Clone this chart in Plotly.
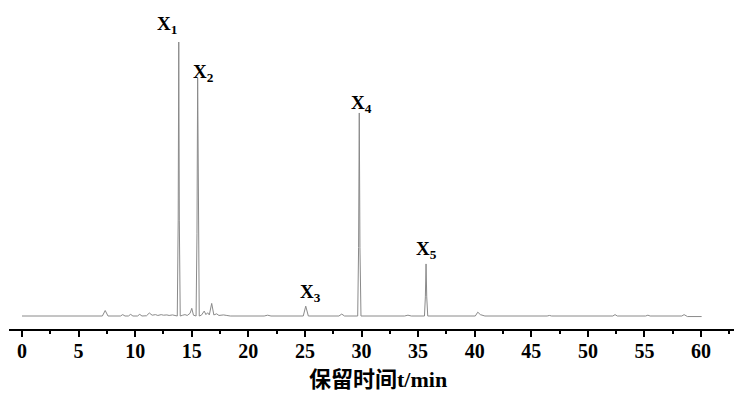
import plotly.graph_objects as go

# Retention time (min) and detector signal (relative units)
time_min = [0, 7.1, 7.35, 7.6,
            8.7, 8.9, 9.1,
            9.4, 9.6, 9.8,
            10.2, 10.4, 10.6,
            11.0, 11.25, 11.5, 11.8, 12.0, 12.3, 12.5, 12.8, 13.0, 13.3, 13.55,
            13.72, 13.80, 13.85, 13.90, 13.98,
            14.2, 14.4, 14.6, 14.85, 15.0, 15.15,
            15.38, 15.46, 15.52, 15.58, 15.66,
            15.85, 16.1, 16.25, 16.4, 16.55, 16.76, 16.95, 17.2, 17.4, 17.8, 18.1, 18.4,
            21.4, 21.7, 22.0,
            24.85, 25.07, 25.3,
            28.0, 28.25, 28.5,
            29.66, 29.74, 29.80, 29.86, 29.95,
            33.8, 34.1, 34.4,
            35.56, 35.64, 35.70, 35.76, 35.85,
            40.05, 40.27, 40.5, 40.9,
            46.4, 46.6, 46.8,
            52.2, 52.4, 52.6,
            55.1, 55.3, 55.5,
            58.3, 58.5, 58.8, 60.05]
signal = [0, 0, 2.0, 0,
          0, 0.5, 0,
          0, 0.6, 0,
          0, 0.6, 0,
          0.1, 1.1, 0.3, 0.5, 0.2, 0.5, 0.3, 0.4, 0.2, 0.4, 0.2,
          0, 35, 100, 35, 0,
          0.3, 0.5, 0.2, 1.0, 2.8, 0.3,
          0, 30, 86.9, 30, 0,
          0.3, 1.8, 0.5, 1.2, 0.4, 4.6, 0.4, 0.8, 0.2, 0.4, 0.2, 0,
          0, 0.3, 0,
          0, 3.6, 0,
          0, 0.7, 0,
          0, 25, 74.1, 25, 0,
          0, 0.3, 0,
          0, 7, 19.0, 7, 0,
          0, 1.4, 0.5, 0,
          0, 0.2, 0,
          0, 0.5, 0,
          0, 0.3, 0,
          0, 0.5, -0.2, -0.2]

tick_vals = [0, 5, 10, 15, 20, 25, 30, 35, 40, 45, 50, 55, 60]
tick_text = ["0", "5", "10", "15", "20", "25", "30", "35", "40", "45", "50", "55", "60"]

peak_labels = ["X<sub>1</sub>", "X<sub>2</sub>", "X<sub>3</sub>", "X<sub>4</sub>", "X<sub>5</sub>"]
label_x = [12.81, 16.08, 25.45, 30.0, 35.7]
label_y = [106.2, 88.7, 8.5, 77.2, 24.1]

x_title = "保留时间t/min"

fig = go.Figure()
fig.add_trace(go.Scatter(x=time_min, y=signal, mode="lines",
                         line=dict(color="#8a8a8a", width=1),
                         hoverinfo="skip", showlegend=False))

for txt, lx, ly in zip(peak_labels, label_x, label_y):
    fig.add_annotation(x=lx, y=ly, xref="x", yref="y", text="<b>" + txt + "</b>",
                       showarrow=False, xanchor="center", yanchor="middle",
                       font=dict(family="Liberation Serif", size=19, color="black", weight="bold"))

fig.add_annotation(x=0.509, y=-0.157, xref="paper", yref="paper",
                   text="<b>" + x_title + "</b>", showarrow=False,
                   xanchor="center", yanchor="middle",
                   font=dict(family="Liberation Serif, Noto Sans CJK SC", size=22, color="black"))

fig.update_layout(
    width=734, height=394,
    margin=dict(l=9, r=0, t=10, b=65),
    paper_bgcolor="white", plot_bgcolor="white",
    xaxis=dict(range=[-1.149, 62.91], showgrid=False, zeroline=False,
               showline=True, linecolor="black", linewidth=2,
               ticks="outside", ticklen=6, tickwidth=2, tickcolor="black",
               tickvals=tick_vals, ticktext=["<b>" + t + "</b>" for t in tick_text],
               ticklabelstandoff=-3, automargin=False,
               tickfont=dict(family="Liberation Serif", size=20, color="black", weight="bold"),
               minor=dict(ticks="outside", ticklen=3, tickwidth=2, tickcolor="black", dtick=2.5, tick0=0)),
    yaxis=dict(range=[-4.74, 111.68], visible=False, showgrid=False, zeroline=False),
)

fig.write_html("out.html", config={"displayModeBar": False},
               post_script="document.body.style.margin='0';document.body.style.overflow='hidden';")
